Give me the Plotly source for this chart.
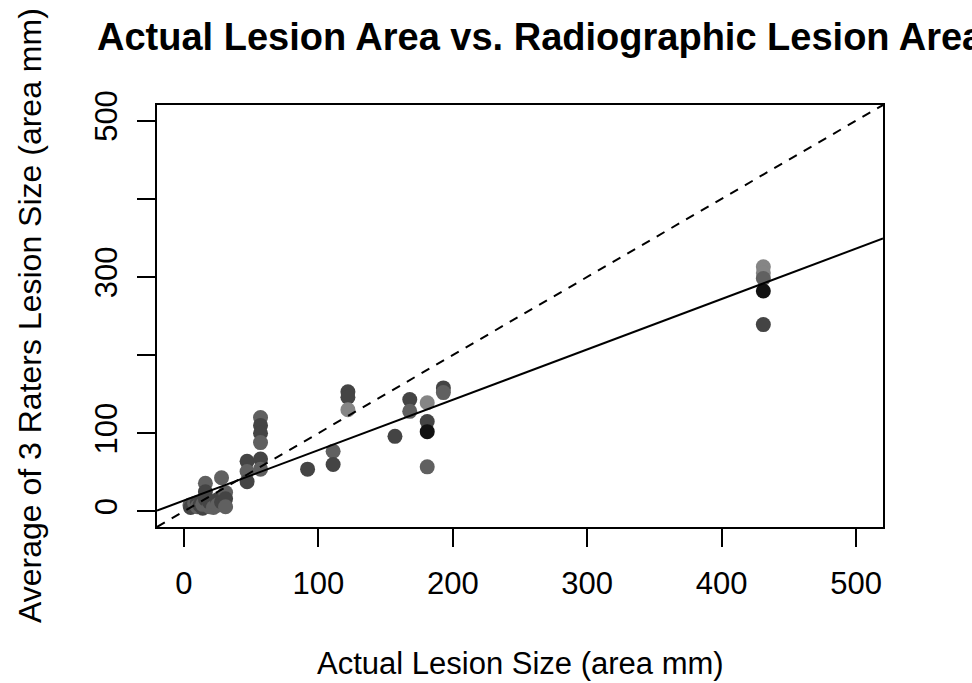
import plotly.graph_objects as go

# ---- data ----
actual_area = [4.5, 5, 8, 10, 10, 12, 14, 14, 16, 16, 16, 19, 19, 22, 25, 25, 28, 28, 31, 31, 31,
               47, 47, 47, 57, 57, 57, 57, 57, 57, 92, 111, 111, 122, 122, 122, 157, 168, 168,
               181, 181, 181, 181, 193, 193, 431, 431, 431, 431, 431]
rater_avg = [8, 5, 10, 11, 6, 8, 4, 9, 36, 25, 16, 6, 12, 5, 15, 8, 43, 12, 24, 16, 6,
             64, 51, 38, 120, 110, 100, 88, 67, 54, 54, 77, 60, 153, 146, 130, 96, 143, 128,
             139, 115, 102, 57, 158, 152, 313, 305, 298, 282, 239]
shade = ["mid", "dark", "mid", "dark", "mid", "dark", "dark", "mid", "mid", "dark", "dark", "mid", "dark", "mid", "dark", "mid", "mid", "dark", "mid", "dark", "mid",
         "dark", "mid", "dark", "mid", "dark", "dark", "mid", "dark", "mid", "dark", "mid", "dark", "dark", "dark", "light", "dark", "dark", "mid",
         "light", "dark", "black", "mid", "dark", "mid", "light", "light", "mid", "black", "dark"]

fit_intercept = 13.8
fit_slope = 0.645

x_ticks = [0, 100, 200, 300, 400, 500]
y_ticks = [0, 100, 200, 300, 400, 500]
y_tick_text = ["0", "100", "", "300", "", "500"]
axis_limits = [-20, 520]

title = "Actual Lesion Area vs. Radiographic Lesion Area"
x_label = "Actual Lesion Size (area mm)"
y_label = "Average of 3 Raters Lesion Size (area mm)"

# ---- style ----
shade_colors = {"light": "#858585", "mid": "#606060", "dark": "#444444", "black": "#111111"}
FONT = "Liberation Sans, Arial, Helvetica, sans-serif"

fig = go.Figure()

fig.add_trace(go.Scatter(
    x=actual_area, y=rater_avg, mode="markers",
    marker=dict(size=15, color=[shade_colors[s] for s in shade], line=dict(width=0)),
    showlegend=False, hoverinfo="x+y"))

# identity line (dashed)
fig.add_trace(go.Scatter(
    x=axis_limits, y=axis_limits, mode="lines",
    line=dict(color="black", width=2, dash="9px,8px"), showlegend=False, hoverinfo="skip"))

# regression line (solid)
fig.add_trace(go.Scatter(
    x=axis_limits, y=[fit_intercept + fit_slope * v for v in axis_limits], mode="lines",
    line=dict(color="black", width=2), showlegend=False, hoverinfo="skip"))

axis_common = dict(
    range=axis_limits, showgrid=False, zeroline=False, showline=True, mirror=True,
    linecolor="black", linewidth=2, ticks="outside", ticklen=18, tickwidth=2, tickcolor="black",
    tickfont=dict(family=FONT, size=31, color="black"),
)

fig.update_layout(
    width=972, height=683,
    margin=dict(l=157, r=89, t=105, b=156),
    paper_bgcolor="white", plot_bgcolor="white",
    title=dict(text="<b>" + title + "</b>", x=97 / 972, xref="container", xanchor="left",
               y=1 - 37 / 683, yref="container", yanchor="middle",
               font=dict(family=FONT, size=38, color="black")),
    xaxis=dict(tickvals=x_ticks, ticklabelstandoff=10, **axis_common),
    yaxis=dict(tickvals=y_ticks, ticktext=y_tick_text, tickangle=-90, ticklabelstandoff=8, **axis_common),
    annotations=[
        dict(text=x_label, xref="paper", yref="paper", x=0.5, y=(527 - 663) / 422,
             xanchor="center", yanchor="middle", showarrow=False,
             font=dict(family=FONT, size=31, color="black")),
        dict(text=y_label, xref="paper", yref="paper", x=(30 - 157) / 726, y=0.5,
             xanchor="center", yanchor="middle", textangle=-90, showarrow=False,
             font=dict(family=FONT, size=32, color="black")),
    ],
)

fig.write_html("out.html",
               config={"displayModeBar": False},
               post_script="document.body.style.margin='0';document.body.style.overflow='hidden';")
